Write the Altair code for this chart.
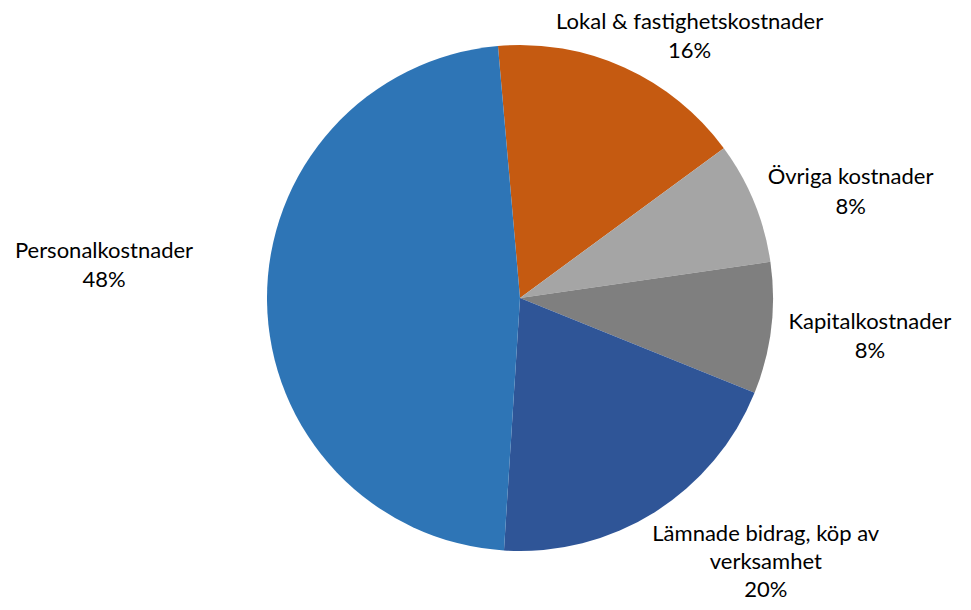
import math
import altair as alt
import pandas as pd

categories = ["Lokal & fastighetskostnader", "Övriga kostnader", "Kapitalkostnader",
              "Lämnade bidrag, köp av verksamhet", "Personalkostnader"]
values = [16.3, 7.8, 8.4, 19.9, 47.6]
label_texts = ["Lokal & fastighetskostnader\n16%", "Övriga kostnader\n8%", "Kapitalkostnader\n8%",
               "Lämnade bidrag, köp av\nverksamhet\n20%", "Personalkostnader\n48%"]
colors = ["#C55A11", "#A5A5A5", "#7F7F7F", "#2F5597", "#2E75B6"]

df = pd.DataFrame({
    "cat": categories,
    "value": values,
    "label": label_texts,
    "idx": list(range(len(categories))),
})

start = 2 * math.pi - math.radians(5)
theta_scale = alt.Scale(range=[start, start + 2 * math.pi])

base = alt.Chart(df)

arcs = base.mark_arc(radius=253, stroke=None).encode(
    theta=alt.Theta("value:Q", stack=True, scale=theta_scale),
    color=alt.Color("cat:N", scale=alt.Scale(domain=categories, range=colors), legend=None),
    order=alt.Order("idx:Q"),
)

# per-label offsets and line heights (styling only)
offsets = {
    "Lokal & fastighetskostnader": (46, -3, 29.5),
    "Övriga kostnader": (53, -7, 29.5),
    "Kapitalkostnader": (52, -12, 29.5),
    "Lämnade bidrag, köp av verksamhet": (86, -18, 28),
    "Personalkostnader": (-116, -51, 29.5),
}

layers = [arcs]
for cat in categories:
    dx, dy, lh = offsets[cat]
    t = base.mark_text(
        radius=300, dx=dx, dy=dy, font="Lato", fontSize=22, lineHeight=lh,
        lineBreak="\n", align="center", baseline="middle", color="#000000",
    ).encode(
        theta=alt.Theta("value:Q", stack=True, scale=theta_scale),
        order=alt.Order("idx:Q"),
        text=alt.condition(alt.datum.cat == cat, alt.Text("label:N"), alt.value("")),
    )
    layers.append(t)

chart = alt.layer(*layers).properties(
    width=880, height=580,
    padding={"left": 72, "top": 0, "right": 0, "bottom": 14},
    autosize=alt.AutoSizeParams(type="none"),
).configure_view(stroke=None).configure(background="white")

chart.save("out.html", embed_options={"renderer": "svg", "actions": False})
